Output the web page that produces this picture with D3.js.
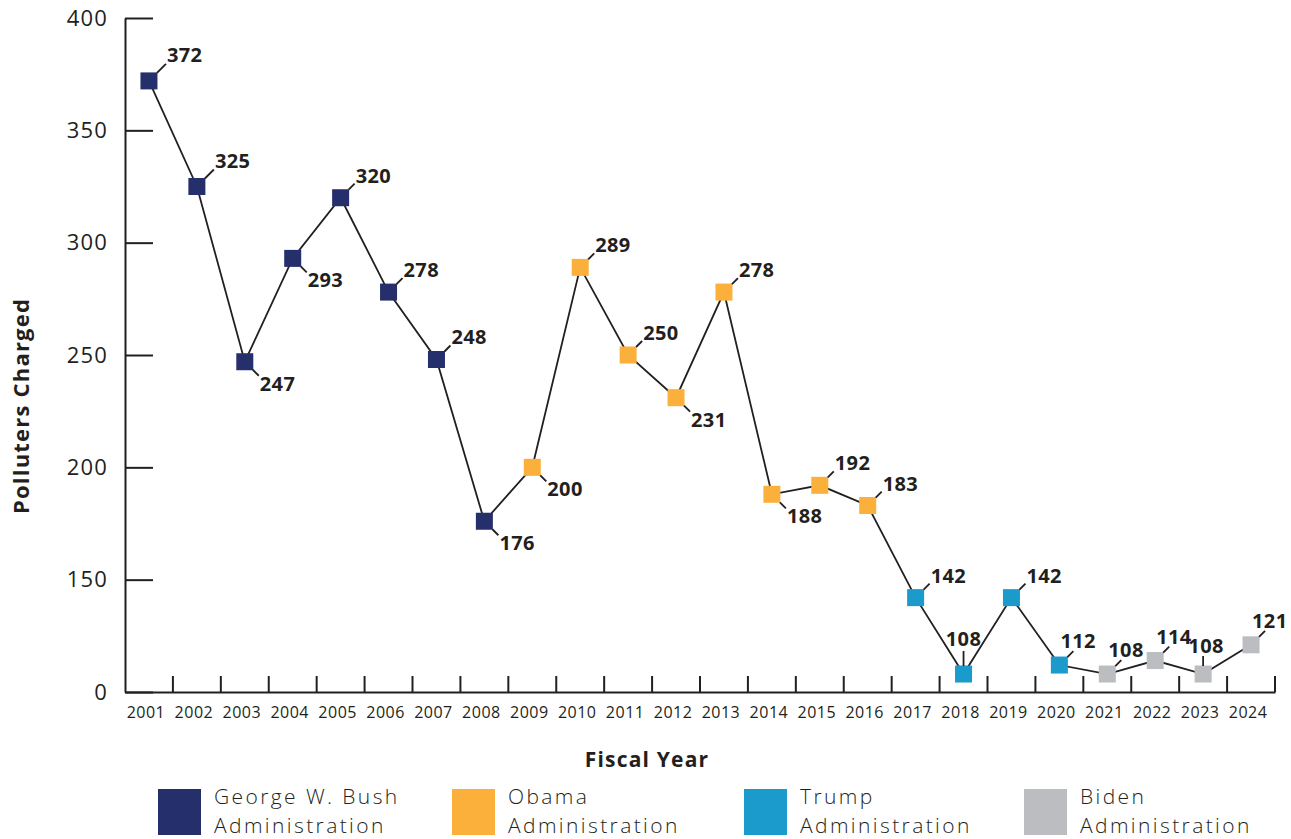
<!DOCTYPE html>
<html>
<head>
<meta charset="utf-8">
<script src="https://cdn.jsdelivr.net/npm/d3@7"></script>
<style>
  html, body { margin: 0; padding: 0; background: #ffffff; }
  svg { display: block; }
  text { font-family: "Open Sans", "Noto Sans", sans-serif; fill: #231f20; }
</style>
</head>
<body>
<svg id="chart" width="1291" height="839"></svg>
<script>
// ---- data ----
const years = ["2001","2002","2003","2004","2005","2006","2007","2008","2009","2010","2011","2012",
               "2013","2014","2015","2016","2017","2018","2019","2020","2021","2022","2023","2024"];
const polluters = [372, 325, 247, 293, 320, 278, 248, 176, 200, 289, 250, 231,
                   278, 188, 192, 183, 142, 108, 142, 112, 108, 114, 108, 121];
const administration = ["Bush","Bush","Bush","Bush","Bush","Bush","Bush","Bush",
                        "Obama","Obama","Obama","Obama","Obama","Obama","Obama","Obama",
                        "Trump","Trump","Trump","Trump",
                        "Biden","Biden","Biden","Biden"];
const labelPlacement = ["urf","urf","dr","dr","ur","ur","ur","dr","dr","ur","ur","dr",
                        "ur","dr","ur","ur","ur","up","ur","nr","nr","nr","upn","nr"];
const adminKeys = ["Bush","Obama","Trump","Biden"];
const adminLegendLine1 = ["George W. Bush","Obama","Trump","Biden"];
const adminLegendLine2 = ["Administration","Administration","Administration","Administration"];
const adminColors = ["#252f6c","#fbb03b","#1a9bcb","#bcbdc0"];
const yTickValues = [100, 150, 200, 250, 300, 350, 400];
const yTickLabels = ["0", "150", "200", "250", "300", "350", "400"];
const yTitle = "Polluters Charged";
const xTitle = "Fiscal Year";

// ---- layout ----
const svg = d3.select("#chart");
const ink = "#231f20";
const x = d3.scaleBand().domain(years).range([125, 1275]);
const y = d3.scaleLinear().domain([100, 400]).range([692, 18]);
const color = d3.scaleOrdinal().domain(adminKeys).range(adminColors);

const data = years.map((yr, i) => ({
  year: yr, value: polluters[i], admin: administration[i], place: labelPlacement[i]
}));
const cx = d => x(d.year) + x.bandwidth() / 2;

// y axis
const yAxis = svg.append("g")
  .attr("transform", "translate(125,0)")
  .call(d3.axisLeft(y).tickValues(yTickValues)
        .tickFormat((d, i) => yTickLabels[i])
        .tickSizeInner(-28).tickSizeOuter(0).tickPadding(17));
yAxis.selectAll("path, line").attr("stroke", ink).attr("stroke-width", 2);
yAxis.selectAll("text").attr("font-size", 22).attr("letter-spacing", 1.2)
  .style("font-family", "'Open Sans', sans-serif").attr("fill", ink);

// x axis
const xAxis = svg.append("g")
  .attr("transform", "translate(0,692)")
  .call(d3.axisBottom(x).tickSize(0).tickPadding(15));
xAxis.select(".domain").attr("stroke", ink).attr("stroke-width", 2);
xAxis.selectAll("text").attr("font-size", 16).attr("letter-spacing", 0.5)
  .attr("dx", -3)
  .style("font-family", "'Open Sans', sans-serif").attr("fill", ink);
// boundary ticks
svg.append("g").selectAll("line").data(years).join("line")
  .attr("x1", d => x(d) + x.bandwidth()).attr("x2", d => x(d) + x.bandwidth())
  .attr("y1", 692).attr("y2", 676)
  .attr("stroke", ink).attr("stroke-width", 2);

// axis titles
svg.append("text")
  .attr("transform", "translate(29,406) rotate(-90)")
  .attr("text-anchor", "middle")
  .attr("font-size", 22).attr("font-weight", 700).attr("letter-spacing", 1.2)
  .text(yTitle);
svg.append("text")
  .attr("x", 647).attr("y", 767)
  .attr("text-anchor", "middle")
  .attr("font-size", 21).attr("font-weight", 700).attr("letter-spacing", 1.2)
  .text(xTitle);

// line
svg.append("path").datum(data)
  .attr("fill", "none").attr("stroke", ink).attr("stroke-width", 1.8)
  .attr("d", d3.line().x(cx).y(d => y(d.value)));

// markers
const s = 17;
svg.append("g").selectAll("rect").data(data).join("rect")
  .attr("x", d => cx(d) - s / 2).attr("y", d => y(d.value) - s / 2)
  .attr("width", s).attr("height", s)
  .attr("fill", d => color(d.admin));

// value labels with leader lines
const places = {
  urf: { dx: 18, dy: -19, anchor: "start",  lead: [[8, -8], [17, -17]] },
  ur:  { dx: 15, dy: -15, anchor: "start",  lead: [[8, -8], [14, -14]] },
  dr:  { dx: 15, dy: 29,  anchor: "start",  lead: [[8, 8], [14, 14]] },
  up:  { dx: 0,  dy: -28, anchor: "middle", lead: [[0, -8], [0, -23]] },
  upn: { dx: 3,  dy: -21, anchor: "middle", lead: [[0, -8], [0, -18]] },
  nr:  { dx: 1,  dy: -17, anchor: "start",  lead: [[8, -8], [14, -14]] }
};
svg.append("g").selectAll("line").data(data).join("line")
  .attr("x1", d => cx(d) + places[d.place].lead[0][0])
  .attr("y1", d => y(d.value) + places[d.place].lead[0][1])
  .attr("x2", d => cx(d) + places[d.place].lead[1][0])
  .attr("y2", d => y(d.value) + places[d.place].lead[1][1])
  .attr("stroke", ink).attr("stroke-width", 1.8);
svg.append("g").selectAll("text").data(data).join("text")
  .attr("x", d => cx(d) + places[d.place].dx)
  .attr("y", d => y(d.value) + places[d.place].dy)
  .attr("text-anchor", d => places[d.place].anchor)
  .attr("font-size", 20).attr("font-weight", 700).attr("letter-spacing", 0.4)
  .text(d => d.value);

// legend
const legendX = [158, 452, 744, 1024];
const lg = svg.append("g").selectAll("g").data(adminKeys).join("g")
  .attr("transform", (d, i) => `translate(${legendX[i]},789)`);
lg.append("rect").attr("width", 43).attr("height", 46).attr("fill", d => color(d));
const lt = lg.append("text")
  .attr("font-size", 21).attr("font-weight", 300).attr("letter-spacing", 2.4);
lt.append("tspan").attr("x", 56).attr("y", 15).text((d, i) => adminLegendLine1[i]);
lt.append("tspan").attr("x", 56).attr("y", 44).text((d, i) => adminLegendLine2[i]);
</script>
</body>
</html>
